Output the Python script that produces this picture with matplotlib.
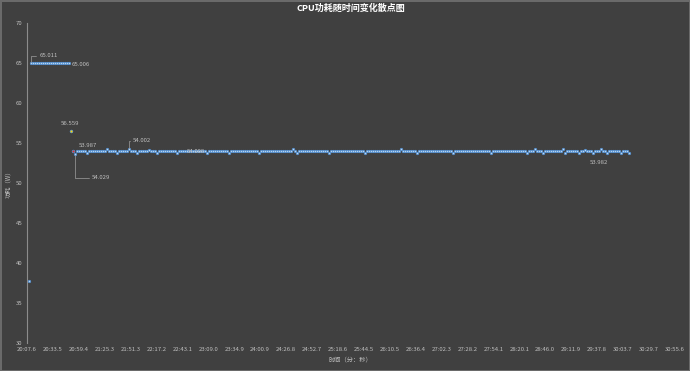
import numpy as np
import matplotlib.pyplot as plt

plt.rcParams['font.family'] = ['Noto Sans CJK SC', 'DejaVu Sans']

title = "CPU功耗随时间变化散点图"
x_label = "时间（分：秒）"
y_label = "功耗（W）"

# time axis (seconds), first sample at start + 2 s, one sample every 2 s
axis_start = 1207.6
axis_end = 1855.6
sample_step = 2.0

x_tick_labels = ["20:07.6", "20:33.5", "20:59.4", "21:25.3", "21:51.3", "22:17.2",
                 "22:43.1", "23:09.0", "23:34.9", "24:00.9", "24:26.8", "24:52.7",
                 "25:18.6", "25:44.5", "26:10.5", "26:36.4", "27:02.3", "27:28.2",
                 "27:54.1", "28:20.1", "28:46.0", "29:11.9", "29:37.8", "30:03.7",
                 "30:29.7", "30:55.6"]

startup = [37.8,
           65.011, 65.002, 64.998, 65.004, 65.001, 64.996, 65.003, 65.000, 64.999, 65.002,
           65.005, 64.997, 65.001, 65.003, 64.998, 65.000, 65.004, 64.999, 65.002, 65.006,
           56.559, 53.987, 53.62]

steady = [54.01, 53.99, 54.02, 53.98, 54.00, 53.78, 54.01, 54.03, 53.99, 54.00,
          54.02, 53.97, 54.00, 54.01, 53.99, 54.20, 53.98, 54.00, 54.02, 53.99,
          53.80, 54.01, 54.00, 53.98, 54.03, 54.002, 54.21, 53.99, 54.01, 53.97,
          53.76, 54.00, 54.02, 53.99, 54.01, 54.00, 54.18, 53.98, 54.01, 54.00,
          53.79, 54.02, 54.00, 53.99, 54.01, 53.98, 54.00, 54.02, 53.99, 54.008,
          53.77, 54.01, 54.00, 53.98, 54.02, 54.00, 53.99, 54.01, 54.00, 53.98,
          54.01, 54.00, 54.02, 53.99, 54.00, 53.78, 54.01, 54.00, 53.99, 54.02,
          54.00, 53.98, 54.01, 54.00, 54.02, 53.99, 53.80, 54.00, 54.01, 53.98,
          54.02, 54.00, 53.99, 54.01, 54.00, 53.98, 54.02, 54.00, 54.01, 53.99,
          54.00, 53.77, 54.02, 54.00, 53.99, 54.01, 54.00, 53.98, 54.02, 54.00,
          54.01, 53.99, 54.00, 54.02, 53.98, 54.00, 54.01, 53.99, 54.22, 54.00,
          53.78, 54.01, 54.00, 53.98, 54.02, 54.00, 53.99, 54.01, 54.00, 53.98,
          54.01, 54.00, 54.02, 53.99, 54.00, 54.01, 53.79, 54.00, 53.99, 54.02,
          54.00, 53.98, 54.01, 54.00, 54.02, 53.99, 54.00, 54.01, 53.98, 54.00,
          54.02, 54.00, 53.99, 54.01, 53.76, 54.00, 54.02, 54.00, 53.99, 54.01,
          54.00, 53.98, 54.02, 54.00, 54.01, 53.99, 54.00, 54.02, 53.98, 54.00,
          54.01, 53.99, 54.19, 54.00, 53.98, 54.02, 54.00, 53.99, 54.01, 54.00,
          53.78, 54.01, 54.00, 53.98, 54.02, 54.00, 53.99, 54.01, 54.00, 53.98,
          54.01, 54.00, 54.02, 53.99, 54.00, 54.01, 53.98, 54.00, 53.80, 54.02,
          54.00, 53.98, 54.01, 54.00, 54.02, 53.99, 54.00, 54.01, 53.98, 54.00,
          54.02, 54.00, 53.99, 54.01, 54.00, 53.98, 54.02, 53.77, 54.01, 53.99,
          54.00, 54.02, 53.98, 54.00, 54.01, 53.99, 54.00, 54.02, 53.98, 54.00,
          54.01, 53.99, 54.00, 54.02, 53.98, 53.78, 54.01, 54.00, 53.99, 54.20,
          54.00, 53.98, 54.01, 53.79, 54.02, 53.99, 54.00, 54.01, 53.98, 54.00,
          54.02, 54.00, 53.99, 54.21, 53.80, 54.00, 54.02, 53.99, 54.01, 54.00,
          53.98, 53.77, 54.02, 54.00, 54.18, 53.99, 54.01, 54.00, 53.78, 54.01,
          54.00, 53.99, 54.20, 53.98, 54.02, 53.78, 54.00, 54.01, 53.99, 53.982,
          54.01, 54.00, 53.79, 54.02, 53.99, 54.00, 53.80]

power = startup + steady

# (sample index, label text, offset in points, leader line)
annotations = [(1, "65.011", (6, 5), True),
               (20, "65.006", (2, -1), False),
               (21, "56.559", (-7, 5), False),
               (22, "53.987", (4, 4), False),
               (23, "54.029", (12, -17), True),
               (50, "54.002", (3, 6), True),
               (83, "54.008", (-6, 0), False),
               (289, "53.982", (-12, -7), False)]
highlight = {21: "#ffd700", 22: "#e0302a"}

bg = "#404040"
text_col = "#bfbfbf"

times = [axis_start + sample_step * (i + 1) for i in range(len(power))]

fig = plt.figure(figsize=(6.9, 3.71), dpi=100, facecolor=bg,
                 edgecolor="#6a6a6a", linewidth=2)
ax = fig.add_axes([0.039, 0.0755, 0.939, 0.8625])
ax.set_facecolor(bg)

ax.scatter(times, power, s=3.2, marker='o', facecolor="#bcd8f2",
           edgecolor="#4a8ad0", linewidths=0.5, zorder=3)
for i, c in highlight.items():
    ax.scatter(times[i], power[i], s=4, marker='o', facecolor=c,
               edgecolor="#4a8ad0", linewidths=0.4, zorder=4)

for i, txt, off, leader in annotations:
    arrow = None
    if leader:
        arrow = dict(arrowstyle='-', color="#a0a0a0", lw=0.5, shrinkA=0, shrinkB=1,
                     connectionstyle="angle,angleA=0,angleB=90,rad=0")
    ax.annotate(txt, (times[i], power[i]), xytext=off, textcoords='offset points',
                fontsize=4.3, color=text_col, va='center', ha='left',
                arrowprops=arrow, zorder=5)

ax.set_xlim(axis_start, axis_end)
ax.set_ylim(30, 70)
ax.set_xticks(np.linspace(axis_start, axis_end, len(x_tick_labels)))
ax.set_xticklabels(x_tick_labels)
ax.set_yticks(range(30, 71, 5))
ax.tick_params(axis='both', length=0, labelsize=4.3, colors=text_col, pad=3)

for side in ['top', 'right', 'bottom']:
    ax.spines[side].set_visible(False)
ax.spines['left'].set_color("#8c8c8c")
ax.spines['left'].set_linewidth(0.8)

ax.set_title(title, fontsize=6.5, color="white", fontweight='bold', pad=9)
ax.set_xlabel(x_label, fontsize=4.5, color=text_col, labelpad=2)
ax.set_ylabel(y_label, fontsize=4.5, color=text_col, labelpad=3)

fig.savefig("out.png", dpi=100, facecolor=bg, edgecolor="#6a6a6a")
